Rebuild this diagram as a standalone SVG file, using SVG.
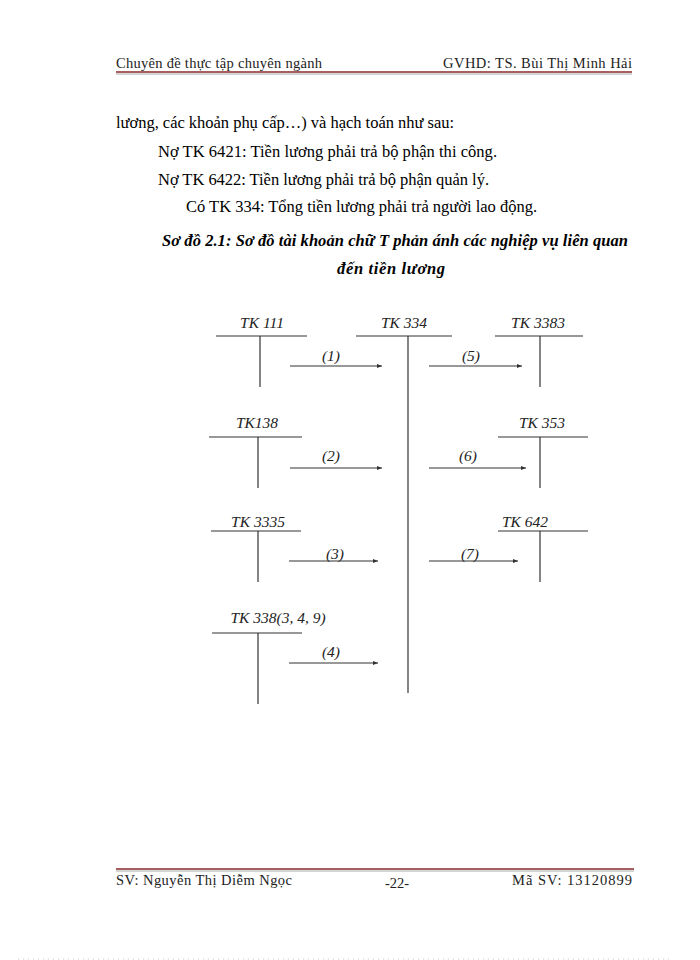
<svg xmlns="http://www.w3.org/2000/svg" width="700" height="960" viewBox="0 0 700 960">
<style>
.hf{font-family:"Liberation Serif","Times New Roman",serif;font-size:14.5px;fill:#222}
.body{font-family:"Liberation Serif","Times New Roman",serif;font-size:16.5px;fill:#000}
.title{font-family:"Liberation Serif","Times New Roman",serif;font-size:16.5px;font-weight:bold;font-style:italic;fill:#000}
.lbl{font-family:"Liberation Serif","Times New Roman",serif;font-size:15.5px;font-style:italic;fill:#222;text-anchor:middle}
.t{stroke:#333;stroke-width:1.2;fill:none}
.arr{stroke:#333;stroke-width:1.2;fill:none;marker-end:url(#ah)}
</style>
<defs>
<marker id="ah" markerWidth="6" markerHeight="6" refX="5" refY="3" orient="auto" markerUnits="userSpaceOnUse">
<path d="M0,1 L5,3 L0,5 z" fill="#333"/>
</marker>
</defs>
<rect width="700" height="960" fill="#fff"/>
<g id="header">
<text class="hf" x="116" y="68" textLength="206">Chuyên đề thực tập chuyên ngành</text>
<text class="hf" x="443" y="68" textLength="189">GVHD: TS. Bùi Thị Minh Hải</text>
<line x1="116" y1="72" x2="632" y2="72" stroke="#8b2a2a" stroke-width="1.5"/>
<line x1="116" y1="74" x2="632" y2="74" stroke="#aaa" stroke-width="1"/>
</g>
<g id="text">
<text class="body" x="116" y="128" textLength="338">lương,  các khoản phụ cấp…) và hạch toán như sau:</text>
<text class="body" x="158" y="157" textLength="339">Nợ TK 6421:  Tiền lương  phải trả bộ phận thi  công.</text>
<text class="body" x="158" y="185" textLength="331">Nợ TK 6422:  Tiền lương  phải trả bộ phận quản lý.</text>
<text class="body" x="186" y="212" textLength="351">Có TK 334:  Tổng tiền  lương  phải trả người lao  động.</text>
<text class="title" x="162" y="246" textLength="466">Sơ đồ 2.1: Sơ đồ tài khoản chữ T phản ánh các nghiệp vụ liên quan</text>
<text class="title" x="337" y="274" textLength="108">đến tiền lương</text>
</g>
<g id="tk111">
<text class="lbl" x="262" y="328">TK 111</text>
<line class="t" x1="216" y1="336" x2="307" y2="336"/>
<line class="t" x1="260" y1="336" x2="260" y2="387"/>
</g>
<g id="tk334">
<text class="lbl" x="404" y="328">TK 334</text>
<line class="t" x1="356" y1="336" x2="452" y2="336"/>
<line class="t" x1="408" y1="336" x2="408" y2="693"/>
</g>
<g id="tk3383">
<text class="lbl" x="538" y="328">TK 3383</text>
<line class="t" x1="495" y1="336" x2="583" y2="336"/>
<line class="t" x1="540" y1="336" x2="540" y2="387"/>
</g>
<g id="tk138">
<text class="lbl" x="257" y="428">TK138</text>
<line class="t" x1="209" y1="437" x2="302" y2="437"/>
<line class="t" x1="258" y1="437" x2="258" y2="488"/>
</g>
<g id="tk353">
<text class="lbl" x="542" y="428">TK 353</text>
<line class="t" x1="498" y1="437" x2="588" y2="437"/>
<line class="t" x1="540" y1="437" x2="540" y2="488"/>
</g>
<g id="tk3335">
<text class="lbl" x="258" y="527">TK 3335</text>
<line class="t" x1="211" y1="531" x2="301" y2="531"/>
<line class="t" x1="258" y1="531" x2="258" y2="582"/>
</g>
<g id="tk642">
<text class="lbl" x="525" y="527">TK 642</text>
<line class="t" x1="498" y1="531" x2="588" y2="531"/>
<line class="t" x1="540" y1="531" x2="540" y2="582"/>
</g>
<g id="tk338">
<text class="lbl" x="278" y="623">TK 338(3, 4, 9)</text>
<line class="t" x1="212" y1="633" x2="302" y2="633"/>
<line class="t" x1="258" y1="633" x2="258" y2="704"/>
</g>
<g id="connectors">
<line class="arr" x1="290" y1="366" x2="382" y2="366"/>
<text class="lbl" x="331" y="361">(1)</text>
<line class="arr" x1="429" y1="366" x2="522" y2="366"/>
<text class="lbl" x="471" y="361">(5)</text>
<line class="arr" x1="290" y1="468" x2="382" y2="468"/>
<text class="lbl" x="331" y="461">(2)</text>
<line class="arr" x1="429" y1="468" x2="526" y2="468"/>
<text class="lbl" x="468" y="461">(6)</text>
<line class="arr" x1="289" y1="561" x2="378" y2="561"/>
<text class="lbl" x="335" y="559">(3)</text>
<line class="arr" x1="429" y1="561" x2="518" y2="561"/>
<text class="lbl" x="470" y="559">(7)</text>
<line class="arr" x1="289" y1="663" x2="378" y2="663"/>
<text class="lbl" x="331" y="657">(4)</text>
</g>
<g id="footer">
<line x1="116" y1="869" x2="634" y2="869" stroke="#8b2a2a" stroke-width="1.5"/>
<line x1="116" y1="871" x2="634" y2="871" stroke="#aaa" stroke-width="1"/>
<text class="hf" x="116" y="885" textLength="176">SV:  Nguyễn  Thị  Diễm  Ngọc</text>
<text class="hf" x="397" y="888" text-anchor="middle">-22-</text>
<text class="hf" x="512" y="885" textLength="120">Mã SV:  13120899</text>
<line x1="18" y1="959" x2="672" y2="959" stroke="#ccc" stroke-width="1" stroke-dasharray="1,4"/>
</g>
</svg>
